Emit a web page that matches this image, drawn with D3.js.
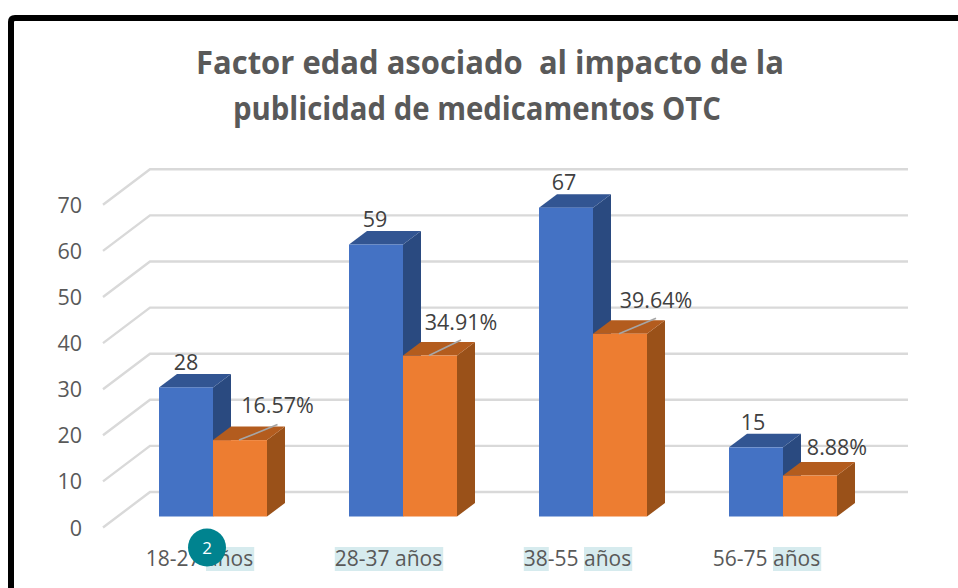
<!DOCTYPE html>
<html><head><meta charset="utf-8">
<script src="https://cdn.jsdelivr.net/npm/d3@7/dist/d3.min.js"></script>
<style>html,body{margin:0;padding:0;background:#fff}svg{display:block}text{font-family:"Open Sans",sans-serif}</style>
</head><body><svg id="c" width="958" height="588"></svg>
<script>
const categories = ["18-27 años","28-37 años","38-55 años","56-75 años"];
const counts = [28,59,67,15];
const percents = [16.57,34.91,39.64,8.88];
const ticks = [0,10,20,30,40,50,60,70];
const titleLines = ["Factor edad asociado  al impacto de la","publicidad de medicamentos OTC"];
// character ranges of each axis label that carry the teal text highlight
const highlights = [[[6,10]],[[0,10]],[[0,2],[6,10]],[[6,10]]];

const svg = d3.select("#c");
const y = d3.scaleLinear().domain([0,70]).range([516.5,193.8]);
const band = d3.scaleBand().domain(categories).range([118,878]);
const xLabelPos = d3.scalePoint().domain(categories).range([199.5,766.5]);
const countLabelPos = d3.scalePoint().domain(categories).range([186,753]);
const BW = 54, DX = 18, DY = 13.5;
const gridL = d3.scaleLinear().domain([0,1]).range([103,150]);
const gridFrontOff = 11, gridBackOff = -24.5;
const pctDx = [64.5,58,63,54], pctDy = [27,26,26,21];
const barX = c => band(c)+41;

// frame
svg.append("path").attr("d","M11,588V22Q11,18 15,18H958")
  .attr("fill","none").attr("stroke","#000").attr("stroke-width",6);

// title
const titleCfg = [{x:490,y:73.5,w:588},{x:477,y:120,w:488}];
svg.append("g").selectAll("text").data(titleLines).join("text")
  .attr("x",(d,i)=>titleCfg[i].x).attr("y",(d,i)=>titleCfg[i].y).attr("text-anchor","middle")
  .attr("font-size",33).attr("font-weight",700).attr("fill","#595959")
  .attr("textLength",(d,i)=>titleCfg[i].w).attr("lengthAdjust","spacingAndGlyphs")
  .style("white-space","pre").text(d=>d);

// grid
const grid = svg.append("g");
ticks.forEach(t=>{
  const yf=y(t)+gridFrontOff, yb=y(t)+gridBackOff;
  grid.append("path").attr("d",d3.line()([[gridL(0),yf],[gridL(1),yb],[908,yb]]))
    .attr("fill","none").attr("stroke","#d9d9d9").attr("stroke-width",2.4);
});
// y labels
svg.append("g").selectAll("text").data(ticks).join("text")
  .attr("x",82).attr("y",t=>y(t)+19).attr("text-anchor","end")
  .attr("font-size",21.5).attr("fill","#595959").text(d=>d);

function bar3d(g,x,top,base,col,colTop,colSide){
  g.append("path").attr("d",d3.line()([[x+BW,top],[x+BW+DX,top-DY],[x+BW+DX,base-DY],[x+BW,base]])).attr("fill",colSide);
  g.append("path").attr("d",d3.line()([[x,top],[x+DX,top-DY],[x+BW+DX,top-DY],[x+BW,top]])).attr("fill",colTop);
  g.append("rect").attr("x",x).attr("y",top).attr("width",BW).attr("height",base-top).attr("fill",col);
}
const bars = svg.append("g");
categories.forEach((c,i)=>{
  const g=bars.append("g");
  bar3d(g,barX(c),y(counts[i]),y(0),"#4472c4","#325592","#2a4a80");
  bar3d(g,barX(c)+BW,y(percents[i]),y(0),"#ed7d31","#b35c1e","#9a5119");
});

// value labels and leaders
const lab = svg.append("g").attr("font-size",21.5).attr("fill","#404040");
categories.forEach((c,i)=>{
  const ox = barX(c)+BW;
  lab.append("text").attr("x",countLabelPos(c)).attr("y",y(counts[i])-17.5).attr("text-anchor","middle").text(counts[i]);
  const px = ox+pctDx[i];
  lab.append("text").attr("x",px).attr("y",y(percents[i])-pctDy[i]).attr("text-anchor","middle").text(percents[i].toFixed(2)+"%");
  if(percents[i]>=10){
    svg.append("line").attr("x1",ox+26).attr("y1",y(percents[i]))
      .attr("x2",px).attr("y2",y(percents[i])-15.5)
      .attr("stroke","#a6a6a6").attr("stroke-width",1.6);
  }
});

// x labels with highlights behind them
const hl = svg.append("g");
const xLab = svg.append("g").selectAll("text").data(categories).join("text")
  .attr("x",c=>xLabelPos(c)).attr("y",566).attr("text-anchor","middle")
  .attr("font-size",21).attr("fill","#595959").text(d=>d);
xLab.each(function(c,i){
  highlights[i].forEach(([a,b])=>{
    const s=this.getStartPositionOfChar(a).x, e=this.getEndPositionOfChar(b-1).x;
    hl.append("rect").attr("x",s).attr("y",547).attr("width",e-s+1).attr("height",24).attr("fill","#d6ebee");
  });
});

// badge
svg.append("circle").attr("cx",207).attr("cy",547.5).attr("r",19).attr("fill","#00838f");
svg.append("text").attr("x",207).attr("y",553.5).attr("text-anchor","middle").attr("font-size",17).attr("fill","#fff").text("2");
</script></body></html>
